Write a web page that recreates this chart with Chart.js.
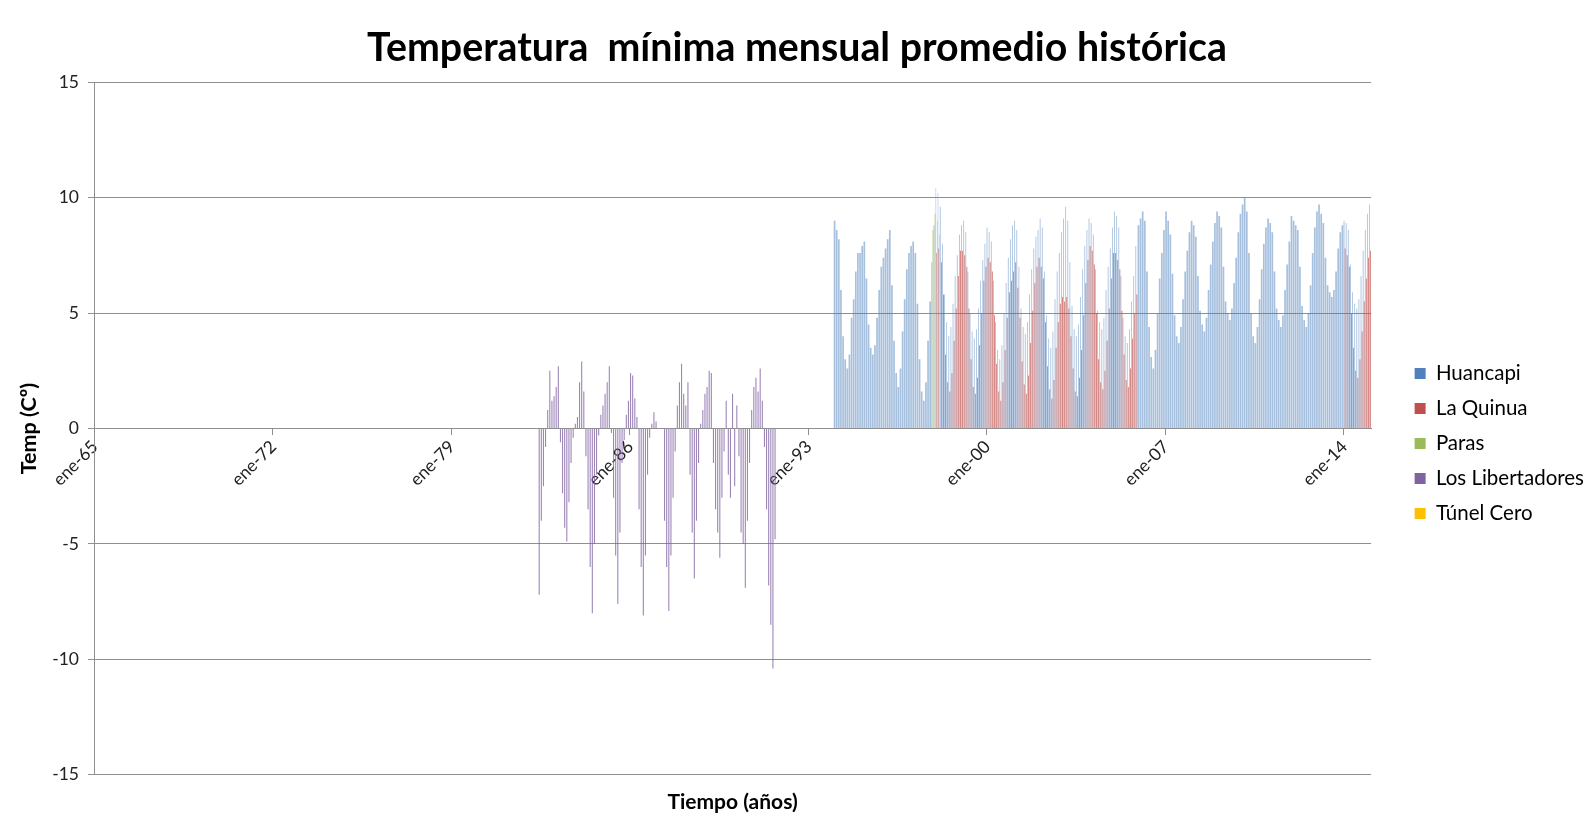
<!DOCTYPE html>
<html>
<head>
<meta charset="utf-8">
<title>Temperatura mínima mensual promedio histórica</title>
<script src="https://cdn.jsdelivr.net/npm/chart.js@4/dist/chart.umd.min.js"></script>
<style>
  html, body { margin: 0; padding: 0; background: #fff; }
</style>
</head>
<body>
<canvas id="tempChart" width="1590" height="823"></canvas>
<script>
// ---- datos ----
const monthNames = ['ene', 'feb', 'mar', 'abr', 'may', 'jun', 'jul', 'ago', 'sep', 'oct', 'nov', 'dic'];
const tickLabels = ['ene-65', 'ene-72', 'ene-79', 'ene-86', 'ene-93', 'ene-00', 'ene-07', 'ene-14'];
const yTicks = [-15, -10, -5, 0, 5, 10, 15];

// etiquetas mensuales ene-65 ... ene-15
const labels = [];
for (let y = 1965; y <= 2015; y++) {
  for (let m = 0; m < 12; m++) {
    if (y === 2015 && m > 0) break;
    labels.push(monthNames[m] + '-' + String(y % 100).padStart(2, '0'));
  }
}

// Huancapi, desde ene-94 (ene..dic por fila)
const huancapiStart = 'ene-94';
const huancapi = [
  9.0, 8.6, 8.2, 6.0, 4.0, 3.0, 2.6, 3.2, 4.8, 5.6, 6.8, 7.6,
  7.6, 7.9, 8.1, 6.5, 4.5, 3.5, 3.2, 3.6, 4.8, 6.0, 7.0, 7.4,
  7.8, 8.2, 8.6, 6.2, 3.8, 2.4, 1.8, 2.6, 4.2, 5.6, 6.9, 7.6,
  7.9, 8.1, 7.6, 5.4, 3.0, 1.6, 1.2, 2.0, 3.8, 5.5, 7.2, 8.8,
  10.4, 10.2, 9.6, 8.0, 5.8, 4.6, 4.0, 4.4, 5.4, 6.6, 7.5, 8.4,
  8.8, 9.0, 8.5, 6.8, 5.0, 4.2, 3.9, 4.3, 5.2, 6.4, 7.3, 8.0,
  8.7, 8.5, 8.1, 6.4, 4.6, 3.4, 3.0, 3.6, 5.0, 6.3, 7.4, 8.2,
  8.8, 9.0, 8.6, 7.0, 5.2, 4.4, 4.1, 4.6, 5.8, 6.9, 7.8, 8.3,
  8.6, 9.1, 8.7, 6.8, 4.9, 3.9, 3.5, 4.2, 5.6, 6.8, 7.6, 8.5,
  9.1, 9.6, 9.0, 7.2, 5.3, 4.3, 4.0, 4.5, 5.7, 6.9, 7.9, 8.6,
  9.1, 8.9, 8.4, 6.9, 5.1, 4.6, 4.3, 4.8, 6.0, 7.0, 7.8, 8.7,
  9.4, 9.2, 8.7, 6.6, 4.8, 4.0, 3.7, 4.3, 5.5, 6.6, 7.9, 8.8,
  9.1, 9.4, 9.0, 6.8, 4.4, 3.1, 2.6, 3.4, 5.0, 6.5, 7.6, 8.6,
  9.4, 9.0, 8.4, 6.7, 4.9, 4.0, 3.7, 4.4, 5.6, 6.8, 7.7, 8.5,
  9.0, 8.8, 8.3, 6.6, 5.1, 4.5, 4.2, 4.8, 6.0, 7.1, 8.1, 8.9,
  9.4, 9.2, 8.7, 7.0, 5.5, 5.0, 4.7, 5.2, 6.3, 7.4, 8.5, 9.3,
  9.7, 10.0, 9.4, 7.6, 5.0, 4.0, 3.7, 4.4, 5.6, 6.9, 8.0, 8.7,
  9.1, 8.9, 8.5, 6.8, 5.2, 4.7, 4.4, 4.9, 6.0, 7.1, 8.1, 9.2,
  9.0, 8.8, 8.6, 7.0, 5.3, 4.7, 4.4, 5.0, 6.2, 7.6, 8.7, 9.4,
  9.7, 9.3, 8.9, 7.4, 6.2, 5.9, 5.7, 6.0, 6.8, 7.8, 8.5, 8.8,
  9.0, 8.9, 8.6, 7.1, 5.9, 5.4, 5.2, 5.6, 6.6, 7.7, 8.6, 9.3,
  9.7
];

// La Quinua, dos tramos
const laQuinuaStart = 'ene-98';
const laQuinua = [
  7.6, 7.8, 7.2, 5.8, 3.2, 2.0, 1.6, 2.4, 3.8, 5.2, 6.6, 7.7,
  7.7, 7.5, 7.0, 5.2, 3.0, 1.8, 1.5, 2.2, 3.6, 5.0, 6.4, 7.0,
  7.4, 7.2, 6.8, 4.9, 2.8, 1.6, 1.2, 2.0, 3.4, 4.8, 5.9, 6.4,
  6.8, 7.2, 6.1, 4.8, 2.9, 1.9, 1.5, 2.3, 3.7, 5.1, 6.3, 7.0,
  7.4, 7.0, 6.5, 4.6, 2.7, 1.7, 1.3, 2.1, 3.5, 4.6, 5.4, 5.7,
  5.5, 5.7, 5.2, 4.0, 2.6, 1.6, 1.4, 2.2, 3.4, 4.9, 6.3, 7.3,
  7.9, 7.7, 7.1, 5.0, 3.0, 2.0, 1.7, 2.5, 3.8, 5.2, 6.5, 7.6,
  7.6, 7.3, 6.9, 5.1, 3.2, 2.1, 1.8, 2.6, 3.9, 5.0, 5.8
];
const laQuinuaStart2 = 'ene-14';
const laQuinua2 = [
  7.8, 7.5, 7.0, 5.0, 3.5, 2.5, 2.2, 3.0, 4.2, 5.5, 6.5, 7.4,
  7.7
];

// Paras (casi oculta)
const parasStart = 'nov-97';
const paras = [8.6, 9.3, 9.0, 8.4];

// Los Libertadores, desde jun-82
const libertadoresStart = 'jun-82';
const libertadores = [
  -7.2, -4.0, -2.5, -0.8, 0.8, 2.5, 1.2,
  1.4, 1.8, 2.7, -0.6, -2.8, -4.3, -4.9, -3.2, -1.5, -0.4, 0.2, 0.5,
  2.0, 2.9, 1.6, -1.2, -3.5, -6.0, -8.0, -5.0, -2.0, -0.3, 0.6, 1.0,
  1.5, 2.0, 2.7, -0.2, -3.0, -5.5, -7.6, -4.5, -1.5, -0.5, 0.6, 1.2,
  2.4, 2.3, 1.3, 0.5, -3.5, -6.0, -8.1, -5.5, -2.0, -0.4, 0.2, 0.7,
  0.3, null, null, null, -4.0, -6.0, -7.9, -5.5, -3.0, -1.0, 1.0, 2.0,
  2.8, 1.5, 1.0, 2.0, -2.0, -4.5, -6.5, -4.0, -1.5, 0.2, 0.8, 1.5,
  1.8, 2.5, 2.4, -1.5, -3.5, -4.5, -5.6, -3.0, -1.0, 1.2, -2.0, -3.0,
  1.5, -2.5, 1.0, -1.2, -4.5, -5.0, -6.9, -4.0, -1.5, 0.8, 1.8, 2.2,
  1.6, 2.6, 1.2, -0.8, -3.5, -6.8, -8.5, -10.4, -4.8
];

// Túnel Cero sin datos
const tunelCero = [];

// ---- armado de series ----
function place(series) {
  const out = new Array(labels.length).fill(null);
  series.forEach(([start, values]) => {
    const i0 = labels.indexOf(start);
    values.forEach((v, k) => { out[i0 + k] = v; });
  });
  return out;
}

// color de leyenda (sólido) y de barra (más claro, como en el original)
const seriesDefs = [
  { name: 'Huancapi', color: '#4F81BD', bar: 'rgba(79,129,189,0.5)', width: 0.8, parts: [[huancapiStart, huancapi]] },
  { name: 'La Quinua', color: '#C0504D', bar: 'rgba(192,80,77,0.75)', width: 0.85, parts: [[laQuinuaStart, laQuinua], [laQuinuaStart2, laQuinua2]] },
  { name: 'Paras', color: '#9BBB59', bar: 'rgba(155,187,89,0.6)', width: 0.8, parts: [[parasStart, paras]] },
  { name: 'Los Libertadores', color: '#8064A2', bar: 'rgba(128,100,162,0.8)', width: 0.5, parts: [[libertadoresStart, libertadores]] },
  { name: 'Túnel Cero', color: '#FFC000', bar: 'rgba(255,192,0,0.6)', width: 0.8, parts: [['ene-65', tunelCero]] }
];

const datasets = seriesDefs.map(s => ({
  label: s.name,
  data: place(s.parts),
  backgroundColor: s.bar,
  borderWidth: 0,
  skipNull: true,
  categoryPercentage: 1,
  barPercentage: s.width
}));

const gridGray = '#8f8f8f';
const fontFam = 'Lato, "Open Sans", sans-serif';

// fondo blanco
const whiteBg = {
  id: 'whiteBg',
  beforeDraw(chart) {
    const ctx = chart.ctx;
    ctx.save();
    ctx.fillStyle = '#fff';
    ctx.fillRect(0, 0, chart.width, chart.height);
    ctx.restore();
  }
};

new Chart(document.getElementById('tempChart'), {
  type: 'bar',
  data: { labels: labels, datasets: datasets },
  plugins: [whiteBg],
  options: {
    responsive: false,
    animation: false,
    layout: { padding: { left: 0, right: -4, top: 0, bottom: 0 } },
    plugins: {
      title: {
        display: true,
        text: 'Temperatura  mínima mensual promedio histórica',
        color: '#000',
        font: { family: fontFam, size: 39.3, weight: 'bold' },
        padding: { top: 25, bottom: 10 }
      },
      legend: {
        position: 'right',
        fullSize: false,
        title: { display: true, text: ' ', font: { size: 10 }, padding: { top: 9, bottom: 9 } },
        labels: {
          boxWidth: 11,
          boxHeight: 11,
          padding: 14.5,
          color: '#000',
          font: { family: fontFam, size: 20.5 },
          generateLabels: chart => seriesDefs.map((s, i) => ({
            text: s.name,
            fillStyle: s.color,
            strokeStyle: s.color,
            fontColor: '#000',
            lineWidth: 0,
            hidden: !chart.isDatasetVisible(i),
            datasetIndex: i
          }))
        }
      },
      tooltip: { enabled: false }
    },
    scales: {
      x: {
        type: 'category',
        position: { y: 0 },
        grid: {
          drawOnChartArea: false,
          drawTicks: true,
          tickLength: 6,
          color: ctx => (tickLabels.includes(labels[ctx.index]) ? gridGray : 'rgba(0,0,0,0)')
        },
        border: { display: true, color: gridGray },
        ticks: {
          autoSkip: false,
          minRotation: 45,
          maxRotation: 45,
          padding: 2,
          color: '#222',
          font: { family: fontFam, size: 17.5 },
          callback: function (value, index) {
            const lab = labels[index];
            return tickLabels.includes(lab) ? lab : '';
          }
        }
      },
      xTitle: {
        type: 'category',
        position: 'bottom',
        grid: { display: false, drawTicks: false },
        border: { display: false },
        ticks: { display: false },
        title: {
          display: true,
          text: 'Tiempo (años)',
          color: '#000',
          font: { family: fontFam, size: 21, weight: 'bold' },
          padding: { top: 15, bottom: 8 }
        }
      },
      y: {
        min: yTicks[0],
        max: yTicks[yTicks.length - 1],
        afterFit: scale => { scale.width = 94; },
        afterBuildTicks: scale => { scale.ticks = yTicks.map(v => ({ value: v })); },
        grid: { color: gridGray, tickLength: 6 },
        border: { display: true, color: gridGray },
        ticks: {
          padding: 9,
          color: '#222',
          font: { family: fontFam, size: 17.5 }
        },
        title: {
          display: true,
          text: 'Temp (Cº)',
          color: '#000',
          font: { family: fontFam, size: 21.5, weight: 'bold' },
          padding: { top: 16, bottom: 0 }
        }
      },
      // separación entre el área del gráfico y la leyenda
      gap: {
        type: 'linear',
        position: 'right',
        afterFit: scale => { scale.width = 29; },
        grid: { display: false },
        border: { display: false },
        ticks: { display: false }
      }
    }
  }
});
</script>
</body>
</html>
